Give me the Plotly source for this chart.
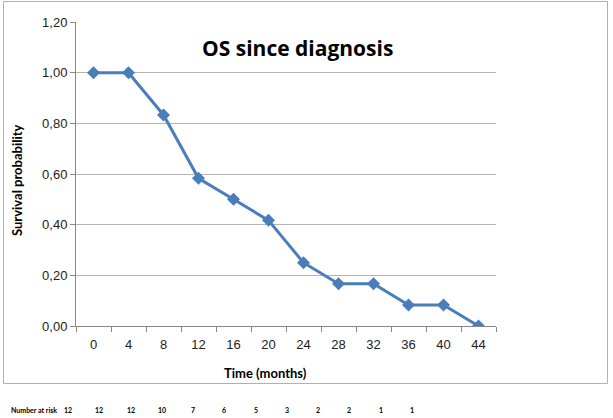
import plotly.graph_objects as go

time_months = [0, 4, 8, 12, 16, 20, 24, 28, 32, 36, 40, 44]
survival = [1.0, 1.0, 0.833, 0.583, 0.5, 0.417, 0.25, 0.167, 0.167, 0.083, 0.083, 0.0]
number_at_risk = [12, 12, 12, 10, 7, 6, 5, 3, 2, 2, 1, 1]
y_ticks = [0, 0.2, 0.4, 0.6, 0.8, 1.0, 1.2]

W, H = 613, 418
L, R, T, B = 76, 117, 22, 92
pw, ph = W - L - R, H - T - B

def px_to_paper_x(px):
    return (px - L) / pw

def py_to_paper_y(py):
    return (H - B - py) / ph

TITLE_FONT = "Lato, Open Sans, sans-serif"

fig = go.Figure()
fig.add_trace(go.Scatter(
    x=time_months, y=survival, mode="lines+markers",
    line=dict(color="#4A7EBB", width=3),
    marker=dict(symbol="diamond", size=10, color="#4A7EBB"),
    showlegend=False, hoverinfo="skip"))

bounds = [t - 2 for t in time_months] + [time_months[-1] + 2]

fig.update_layout(
    width=W, height=H,
    margin=dict(l=L, r=R, t=T, b=B),
    paper_bgcolor="white", plot_bgcolor="white",
    separators=",.",
    font=dict(family="Liberation Sans, Arial, sans-serif", color="#222222", size=13),
    xaxis=dict(
        range=[-2, 46], tickvals=time_months, ticktext=[str(t) for t in time_months],
        ticks="", showgrid=False, zeroline=False,
        showline=True, linecolor="#888888", linewidth=1,
        tickfont=dict(size=13),
        ticklabelstandoff=6,
        minor=dict(tickvals=bounds, ticks="outside", ticklen=5, tickcolor="#888888", showgrid=False),
    ),
    yaxis=dict(
        range=[0, 1.2], tickvals=y_ticks, tickformat=".2f",
        showgrid=True, gridcolor="#B4B4B4", gridwidth=1, zeroline=False,
        showline=True, linecolor="#888888", linewidth=1,
        ticks="outside", ticklen=5, tickcolor="#888888",
        tickfont=dict(size=13),
    ),
)

fig.add_annotation(text="<b>OS since diagnosis</b>", xref="paper", yref="paper",
                   x=px_to_paper_x(297), y=py_to_paper_y(48), xanchor="center", yanchor="middle",
                   showarrow=False,
                   font=dict(size=21, family="Open Sans, sans-serif", color="#000"))

fig.add_annotation(text="<b>Time (months)</b>", xref="paper", yref="paper",
                   x=px_to_paper_x(265), y=py_to_paper_y(373), xanchor="center", yanchor="middle",
                   showarrow=False, font=dict(size=13, family=TITLE_FONT, color="#000"))

fig.add_annotation(text="<b>Survival probability</b>", xref="paper", yref="paper",
                   x=px_to_paper_x(17), y=py_to_paper_y(180), xanchor="center", yanchor="middle",
                   textangle=-90, showarrow=False, font=dict(size=13, family=TITLE_FONT, color="#000"))

fig.add_annotation(text="<b>Number at risk</b>", xref="paper", yref="paper",
                   x=px_to_paper_x(9), y=py_to_paper_y(410), xanchor="left", yanchor="middle",
                   showarrow=False,
                   font=dict(size=7, family=TITLE_FONT, color="#000"))

start_px, step_px = 68, (412 - 68) / (len(number_at_risk) - 1)
for i, n in enumerate(number_at_risk):
    fig.add_annotation(text=f"<b>{n}</b>", xref="paper", yref="paper",
                       x=px_to_paper_x(start_px + i * step_px), y=py_to_paper_y(410),
                       xanchor="center", yanchor="middle", showarrow=False,
                       font=dict(size=7, family=TITLE_FONT, color="#000"))

fig.add_shape(type="rect", xref="paper", yref="paper",
              x0=px_to_paper_x(3.5), x1=px_to_paper_x(607.5),
              y0=py_to_paper_y(383.5), y1=py_to_paper_y(1.5),
              line=dict(color="#B0B0B0", width=1), layer="below")

fig.write_html("out.html", config={"displayModeBar": False},
               post_script="document.body.style.margin='0';")
